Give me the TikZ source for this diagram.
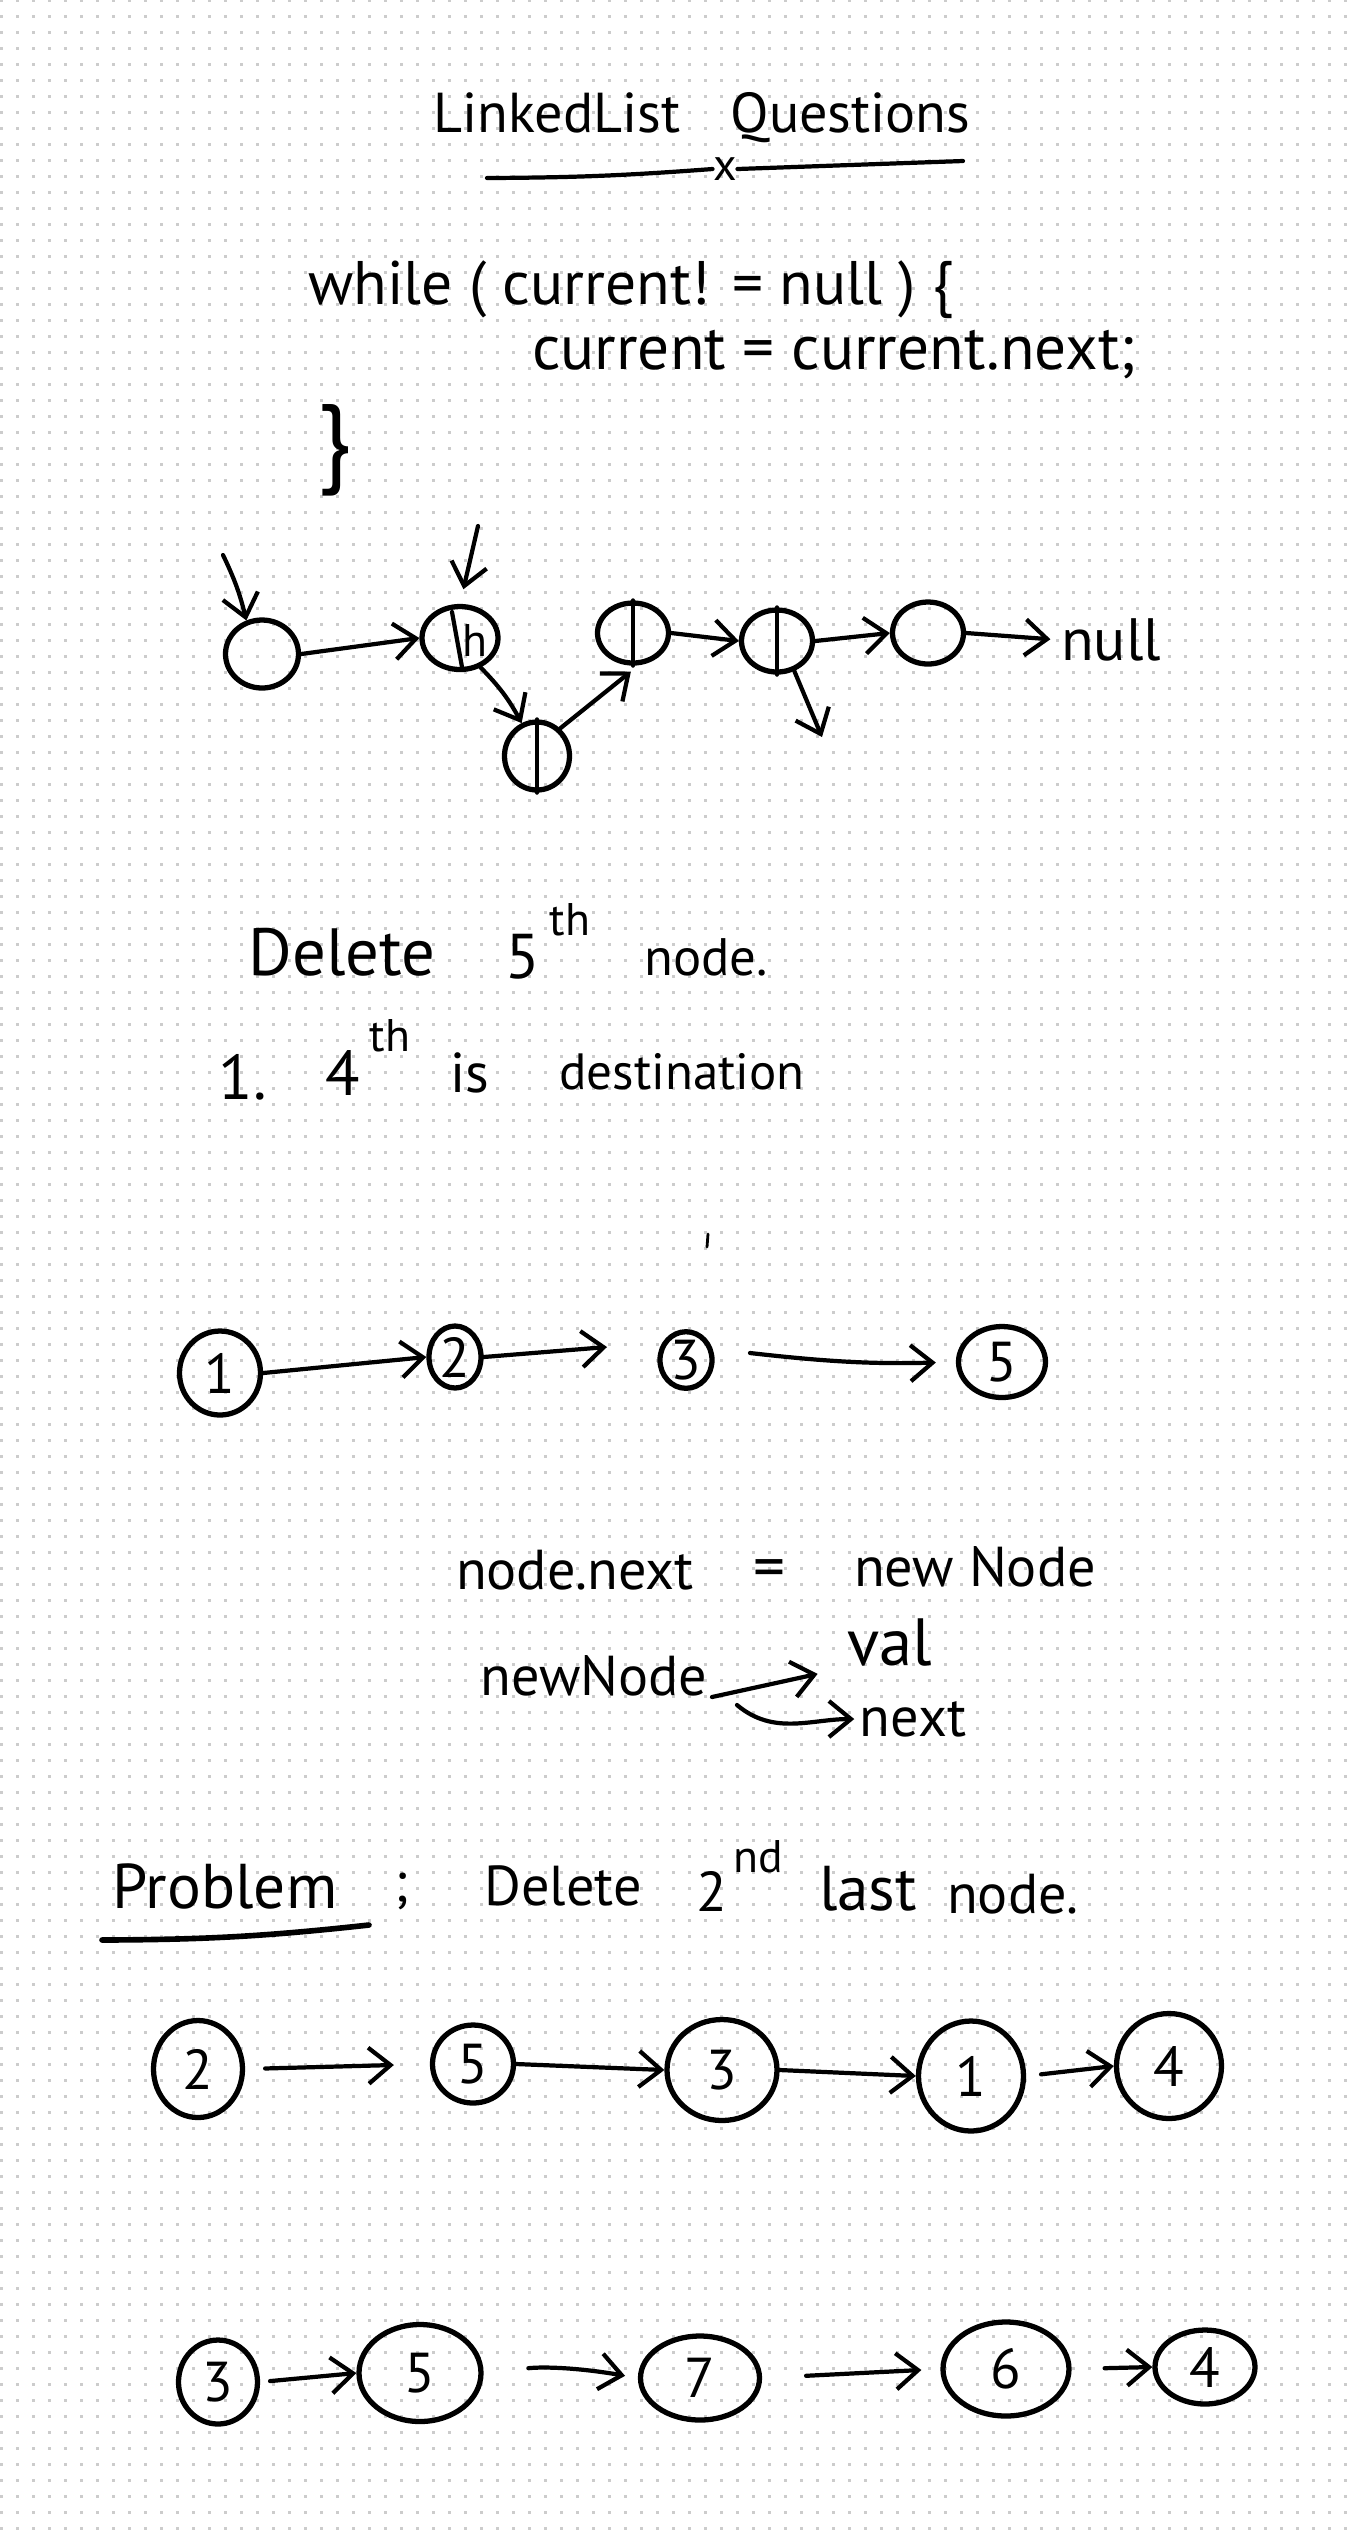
\documentclass[tikz,border=0pt]{standalone}
\usepackage{fontspec}
\setmainfont{PT Sans}
\usetikzlibrary{arrows.meta}
\usetikzlibrary{shapes.geometric}
\usetikzlibrary{positioning}

\tikzset{
  hw/.style={font=\fontsize{16}{18}\selectfont, inner sep=0pt},
  hwsize/.style={font=\fontsize{#1}{#1}\selectfont, inner sep=0pt},
  hwsup/.style={font=\fontsize{13}{15}\selectfont, inner sep=0pt},
  llnode/.style 2 args={ellipse, draw, line width=1.5pt, minimum width=#1cm, minimum height=#2cm, inner sep=0pt, font=\fontsize{16}{18}\selectfont},
  link/.style={-{Straight Barb[length=2.2mm,width=3.6mm]}, line width=1.2pt, line cap=round},
  stroke/.style={line width=1.2pt, line cap=round},
  dotrow/.style={black!20, line width=0.03cm, dash pattern=on 0.03cm off 0.13cm}
}

\begin{document}
\begin{tikzpicture}
\useasboundingbox (0,0) rectangle (13.57,-25.39);
\fill[white] (0,0) rectangle (13.57,-25.39);
% dot paper
\foreach \j in {0,...,158}
  \draw[dotrow] (0,-0.16*\j) -- (13.57,-0.16*\j);

% title
\node[hwsize=16] (title) at (7.02,-1.18) {LinkedList\hspace{0.5cm}Questions};
\node[hwsup] (xmark) at (7.25,-1.69) {x};
\draw[stroke] (4.87,-1.78) to[bend right=2] (xmark.west);
\draw[stroke] (xmark.east) -- (9.63,-1.61);

% loop
\node[hwsize=17.5] (whileln) at (6.31,-2.90) {while ( current! = null ) \{};
\node[hwsize=18] (stepln) at (8.34,-3.55) {current = current.next;};
\node[hwsize=28] (brace) at (3.35,-4.50) {\}};

% walking the list
\node[llnode={0.73}{0.68}] (A) at (2.62,-6.54) {};
\node[llnode={0.76}{0.63}] (B) at (4.60,-6.38) {};
\node[llnode={0.65}{0.68}] (C) at (5.37,-7.56) {};
\node[llnode={0.71}{0.60}] (D) at (6.33,-6.33) {};
\node[llnode={0.71}{0.62}] (E) at (7.77,-6.41) {};
\node[llnode={0.71}{0.62}] (F) at (9.28,-6.33) {};
\node[hwsize=17] (nulltxt) at (11.11,-6.40) {null};
\node[hwsup] (htxt) at (4.75,-6.40) {h};
\draw[stroke] (4.52,-6.12) -- (4.62,-6.67);
\draw[stroke] (C.north) -- (C.south);
\draw[stroke] (D.north) -- (D.south);
\draw[stroke] (E.north) -- (E.south);
\coordinate (ptrA) at (2.23,-5.55);
\coordinate (ptrB) at (4.78,-5.26);
\coordinate (Edown) at (8.22,-7.37);
\draw[link] (ptrA) to[bend left=6] (A.115);
\draw[link, shorten >=1.5mm] (ptrB) -- (B.north);
\draw[link] (A.east) -- (B.west);
\draw[link] (B.-55) to[bend left=8] (C.115);
\draw[link, shorten >=1mm] (C.50) -- (D.-80);
\draw[link] (D.east) -- (E.west);
\draw[link] (E.east) -- (F.west);
\draw[link, shorten >=1mm] (F.east) -- (nulltxt.west);
\draw[link] (E.-60) -- (Edown);

% delete 5th node
\node[hwsize=19] (del1) at (3.42,-9.52) {Delete};
\node[hwsize=18] (five) at (5.23,-9.57) {5};
\node[hwsup, above right=-0.3mm and 0.8mm of five] (fiveth) {th};
\node[hwsize=15] (nodew1) at (7.06,-9.57) {node.};
\node[hwsize=18] (one) at (2.43,-10.77) {1.};
\node[hwsize=18] (four) at (3.43,-10.73) {4};
\node[hwsup, above right=-0.3mm and 0.8mm of four] (fourth) {th};
\node[hwsize=16] (isw) at (4.70,-10.73) {is};
\node[hwsize=14.5] (dest) at (6.82,-10.72) {destination};
\draw[line width=0.8pt, line cap=round] (7.08,-12.34) -- (7.07,-12.47);

% list 1 2 3 5
\node[llnode={0.81}{0.84}] (N1) at (2.20,-13.73) {1};
\node[llnode={0.52}{0.62}] (N2) at (4.55,-13.57) {2};
\node[llnode={0.52}{0.55}] (N3) at (6.86,-13.60) {3};
\node[llnode={0.87}{0.71}] (N5) at (10.02,-13.62) {5};
\coordinate (n2end) at (6.07,-13.47);
\coordinate (n3start) at (7.50,-13.53);
\draw[link] (N1.east) -- (N2.west);
\draw[link] (N2.east) -- (n2end);
\draw[link, shorten >=2mm] (n3start) to[bend right=4] (N5.west);

% new node
\node[hw] (nodenext) at (5.75,-15.70) {node.next};
\node[hwsize=18] (eqsign) at (7.69,-15.74) {=};
\node[hw] (newtop) at (9.75,-15.67) {new Node};
\node[hw] (newbot) at (5.94,-16.76) {newNode};
\node[hwsize=19] (valtxt) at (8.90,-16.43) {val};
\node[hw] (nexttxt) at (9.13,-17.19) {next};
\coordinate (valstart) at (7.12,-16.97);
\coordinate (nxstart) at (7.37,-17.05);
\draw[link, shorten >=3mm] (valstart) -- (valtxt.south west);
\draw[link, shorten >=0.5mm] (nxstart) to[out=-40,in=180] (nexttxt.west);

% problem
\node[hwsize=18] (prob) at (2.25,-18.86) {Problem};
\node[hw] (semi) at (4.02,-18.91) {;};
\draw[line width=1.6pt, line cap=round] (1.02,-19.40) to[bend right=3] (3.69,-19.25);
\node[hw] (del2) at (5.63,-18.86) {Delete};
\node[hw] (two) at (7.12,-18.91) {2};
\node[hwsup, above right=-0.3mm and 0.5mm of two] (twond) {nd};
\node[hwsize=18] (lastw) at (8.68,-18.89) {last};
\node[hw] (nodew2) at (10.13,-18.94) {node.};

% list 2 5 3 1 4
\node[llnode={0.89}{0.97}] (a2) at (1.98,-20.69) {2};
\node[llnode={0.81}{0.78}] (a5) at (4.73,-20.64) {5};
\node[llnode={1.10}{1.01}] (a3) at (7.22,-20.70) {3};
\node[llnode={1.05}{1.10}] (a1) at (9.71,-20.76) {1};
\node[llnode={1.05}{1.05}] (a4) at (11.69,-20.66) {4};
\draw[link, shorten <=2mm, shorten >=3.6mm] (a2.east) -- (a5.west);
\draw[link] (a5.east) -- (a3.west);
\draw[link] (a3.east) -- (a1.west);
\draw[link, shorten <=1.5mm] (a1.east) -- (a4.west);

% list 3 5 7 6 4
\node[llnode={0.79}{0.84}] (b3) at (2.18,-23.82) {3};
\node[llnode={1.22}{0.97}] (b5) at (4.20,-23.73) {5};
\node[llnode={1.19}{0.84}] (b7) at (7.00,-23.78) {7};
\node[llnode={1.26}{0.94}] (b6) at (10.06,-23.69) {6};
\node[llnode={1.00}{0.74}] (b4) at (12.05,-23.67) {4};
\draw[link, shorten <=1mm] (b3.east) -- (b5.west);
\draw[link, shorten <=4.5mm, shorten >=1.3mm] (b5.east) to[bend left=8] (b7.west);
\draw[link, shorten <=4.4mm, shorten >=1.9mm] (b7.east) -- (b6.west);
\draw[link, shorten <=3.3mm] (b6.east) -- (b4.west);
\end{tikzpicture}
\end{document}
